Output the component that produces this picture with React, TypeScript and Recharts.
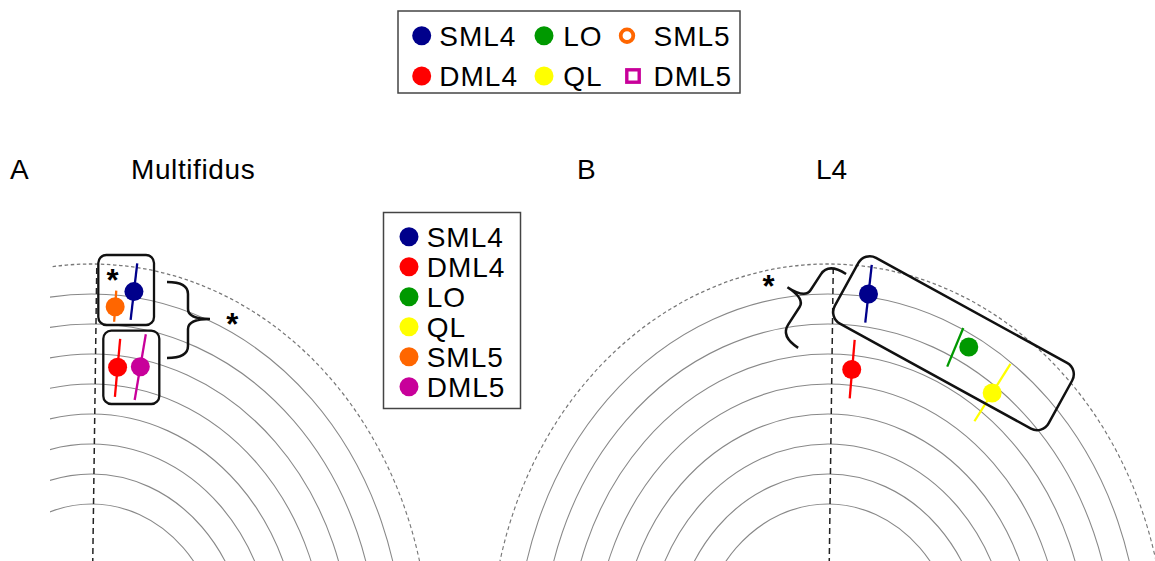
import React from 'react';
import {
  RadarChart, PolarGrid, PolarAngleAxis, PolarRadiusAxis,
  ScatterChart, Scatter, XAxis, YAxis, ReferenceLine, ReferenceArea, ReferenceDot,
} from 'recharts';

const FONT = '"Liberation Sans", Arial, Helvetica, sans-serif';

const COLORS: Record<string, string> = {
  SML4: '#00008B',
  DML4: '#FF0000',
  LO: '#009900',
  QL: '#FFFF00',
  SML5: '#FF6600',
  DML5: '#C8009A',
};

// radial grid (units along the radius)
const ringValues = [5, 6, 7, 8, 9, 10, 11, 12];
const outerRing = 13;
const zeroLineAngle = 0.9;

// panel A - Multifidus (angle in degrees from vertical, radius and bar ends)
const multifidusNames = ['SML4', 'SML5', 'DML4', 'DML5'];
const multifidusAngle = [7.7, 4.5, 6.0, 11.1];
const multifidusRadius = [12.19, 11.61, 9.61, 9.76];
const multifidusLow = [11.24, 11.11, 8.62, 8.63];
const multifidusHigh = [13.14, 12.15, 10.56, 10.86];
const multifidusBarAngle = [7.7, 4.5, 6.0, 11.1];

// panel B - L4
const l4Names = ['SML4', 'DML4', 'LO', 'QL'];
const l4Angle = [7.4, 5.5, 27.9, 36.0];
const l4Radius = [12.1, 9.53, 11.58, 10.75];
const l4Low = [11.14, 8.56, 10.62, 9.59];
const l4High = [13.08, 10.52, 12.05, 11.95];
const l4BarAngle = [7.4, 5.6, 25.6, 36.0];

const legendTop = ['SML4', 'LO', 'SML5', 'DML4', 'QL', 'DML5'];
const legendSide = ['SML4', 'DML4', 'LO', 'QL', 'SML5', 'DML5'];

const PX = 30; // pixels per radial unit (vertical)
const SX = 0.866; // the figure is squeezed horizontally

const toXY = (angleDeg: number, r: number) => {
  const a = (angleDeg * Math.PI) / 180;
  return { x: r * Math.sin(a), y: r * Math.cos(a) };
};

type Cfg = { left: number; top: number; width: number; height: number; cx: number; cy: number };

const panelA: Cfg = { left: 50, top: 200, width: 380, height: 361, cx: 41.5, cy: 454 };
const panelB: Cfg = { left: 480, top: 200, width: 675, height: 361, cx: 348, cy: 454 };

const ringData = ringValues.map((v) => ({ name: String(v) }));

function series(names: string[], angle: number[], radius: number[], low: number[], high: number[], barAngle: number[]) {
  const bars = names.map((n, i) => (
    <Scatter
      key={n + '-bar'}
      data={[toXY(barAngle[i], low[i]), toXY(barAngle[i], high[i])]}
      line={{ stroke: COLORS[n], strokeWidth: 2.3 }}
      shape={() => <g />}
      isAnimationActive={false}
    />
  ));
  const dots = names.map((n, i) => (
    <Scatter
      key={n}
      data={[toXY(angle[i], radius[i])]}
      shape={(p: any) => <circle cx={p.cx} cy={p.cy} r={9.5} fill={COLORS[n]} />}
      isAnimationActive={false}
    />
  ));
  return [...bars, ...dots];
}

const star = (p: any) => (
  <text x={p.cx} y={p.cy + 18} textAnchor="middle" fontSize={31} fontWeight="bold" fontFamily={FONT} fill="#000">*</text>
);

const roundBox = (p: any) => (
  <rect x={p.x} y={p.y} width={p.width} height={p.height} rx={8} fill="none" stroke="#111" strokeWidth={2.3} />
);

function PolarPanel({ cfg, children }: { cfg: Cfg; children: React.ReactNode }) {
  const pad = 200;
  const ux = PX * SX;
  const xDomain = [-cfg.cx / ux, (cfg.width - cfg.cx) / ux];
  const yDomain = [(cfg.cy - cfg.height) / PX, cfg.cy / PX];
  return (
    <div style={{ position: 'absolute', left: cfg.left, top: cfg.top, width: cfg.width, height: cfg.height, overflow: 'hidden' }}>
      <div
        style={{
          position: 'absolute', left: -pad, top: 0,
          transform: `scaleX(${SX})`, transformOrigin: `${cfg.cx + pad}px 0px`,
        }}
      >
        <RadarChart
          width={cfg.width + 2 * pad}
          height={cfg.height}
          cx={cfg.cx + pad}
          cy={cfg.cy}
          outerRadius={outerRing * PX}
          data={ringData}
          margin={{ top: 0, right: 0, bottom: 0, left: 0 }}
        >
          <PolarAngleAxis dataKey="name" tick={false} axisLine={false} tickLine={false} />
          <PolarRadiusAxis domain={[0, outerRing]} tick={false} axisLine={false} />
          <PolarGrid gridType="circle" radialLines={false} polarRadius={ringValues.map((v) => v * PX)} stroke="#888" strokeWidth={1.2} />
          <PolarGrid gridType="circle" radialLines={false} polarRadius={[outerRing * PX]} stroke="#777" strokeWidth={1.3} strokeDasharray="4 3" />
        </RadarChart>
      </div>
      <div style={{ position: 'absolute', left: 0, top: 0 }}>
        <ScatterChart width={cfg.width} height={cfg.height} margin={{ top: 0, right: 0, bottom: 0, left: 0 }}>
          <XAxis type="number" dataKey="x" domain={xDomain} allowDataOverflow hide />
          <YAxis type="number" dataKey="y" domain={yDomain} allowDataOverflow hide />
          <ReferenceLine
            segment={[{ x: 0, y: 0 }, toXY(zeroLineAngle, outerRing)]}
            stroke="#222"
            strokeWidth={1.5}
            strokeDasharray="6 4"
            ifOverflow="visible"
          />
          {children}
        </ScatterChart>
      </div>
    </div>
  );
}

export default function App() {
  return (
    <div style={{ position: 'absolute', left: 0, top: 0, width: 1155, height: 561, overflow: 'hidden', background: '#fff' }}>
      <PolarPanel cfg={panelA}>
        {series(multifidusNames, multifidusAngle, multifidusRadius, multifidusLow, multifidusHigh, multifidusBarAngle)}
        <ReferenceArea x1={0.262} x2={2.406} y1={10.967} y2={13.3} shape={roundBox} ifOverflow="visible" />
        <ReferenceArea x1={0.454} x2={2.61} y1={8.333} y2={10.777} shape={roundBox} ifOverflow="visible" />
        <ReferenceDot
          x={3.714}
          y={11.133}
          ifOverflow="visible"
          shape={(p: any) => (
            <path
              transform={`translate(${p.cx},${p.cy})`}
              d="M -21 -38 Q 0 -38 0 -26 L 0 -11 Q 0 -1 22 -1 Q 0 -1 0 9 L 0 26 Q 0 38 -21 38"
              fill="none" stroke="#111" strokeWidth={2.5}
            />
          )}
        />
        <ReferenceDot x={0.81} y={12.71} ifOverflow="visible" shape={star} />
        <ReferenceDot x={5.42} y={11.24} ifOverflow="visible" shape={star} />
      </PolarPanel>

      <PolarPanel cfg={panelB}>
        {series(l4Names, l4Angle, l4Radius, l4Low, l4High, l4BarAngle)}
        <ReferenceDot
          x={4.83}
          y={10.36}
          ifOverflow="visible"
          shape={(p: any) => (
            <rect
              x={-122} y={-37.5} width={244} height={75} rx={13}
              transform={`translate(${p.cx},${p.cy}) rotate(28.8)`}
              fill="none" stroke="#111" strokeWidth={2.5}
            />
          )}
        />
        <ReferenceDot
          x={-0.905}
          y={11.817}
          ifOverflow="visible"
          shape={(p: any) => (
            <path
              transform={`translate(${p.cx},${p.cy}) rotate(33)`}
              d="M 21 -44 Q 0 -44 0 -30 L 0 -11 Q 0 -1 -21 -1 Q 0 -1 0 9 L 0 30 Q 0 44 21 44"
              fill="none" stroke="#111" strokeWidth={2.5}
            />
          )}
        />
        <ReferenceDot x={-2.29} y={12.5} ifOverflow="visible" shape={star} />
      </PolarPanel>

      <svg width={1155} height={561} style={{ position: 'absolute', left: 0, top: 0, pointerEvents: 'none' }} fontFamily={FONT}>
        <text x={10} y={179} fontSize={28} fill="#000">A</text>
        <text x={131} y={179} fontSize={28} letterSpacing={0.6} fill="#000">Multifidus</text>
        <text x={577} y={179} fontSize={28} fill="#000">B</text>
        <text x={816} y={179} fontSize={28} fill="#000">L4</text>

        <rect x={398} y={11} width={342} height={82} fill="#fff" stroke="#444" strokeWidth={1.5} />
        {legendTop.map((n, i) => {
          const col = i % 3;
          const row = Math.floor(i / 3);
          const cy = row === 0 ? 35.7 : 76;
          const mx = [421.7, 544, 630][col];
          const tx = [439.3, 563.3, 653.5][col];
          let marker;
          if (n === 'SML5') marker = <circle cx={627} cy={cy} r={6.3} fill="none" stroke={COLORS[n]} strokeWidth={3.8} />;
          else if (n === 'DML5') marker = <rect x={633 - 6.2} y={cy - 6.2} width={12.4} height={12.4} fill="none" stroke={COLORS[n]} strokeWidth={3.4} />;
          else marker = <circle cx={mx} cy={cy} r={9.5} fill={COLORS[n]} />;
          return (
            <g key={n}>
              {marker}
              <text x={tx} y={cy + 10} fontSize={28} letterSpacing={1} fill="#000">{n}</text>
            </g>
          );
        })}

        <rect x={383.5} y={212.5} width={137} height={196} fill="#fff" stroke="#444" strokeWidth={1.5} />
        {legendSide.map((n, i) => {
          const cy = 236.7 + i * 30;
          return (
            <g key={n}>
              <circle cx={409} cy={cy} r={9.5} fill={COLORS[n]} />
              <text x={426.7} y={cy + 10} fontSize={28} letterSpacing={1} fill="#000">{n}</text>
            </g>
          );
        })}
      </svg>
    </div>
  );
}
